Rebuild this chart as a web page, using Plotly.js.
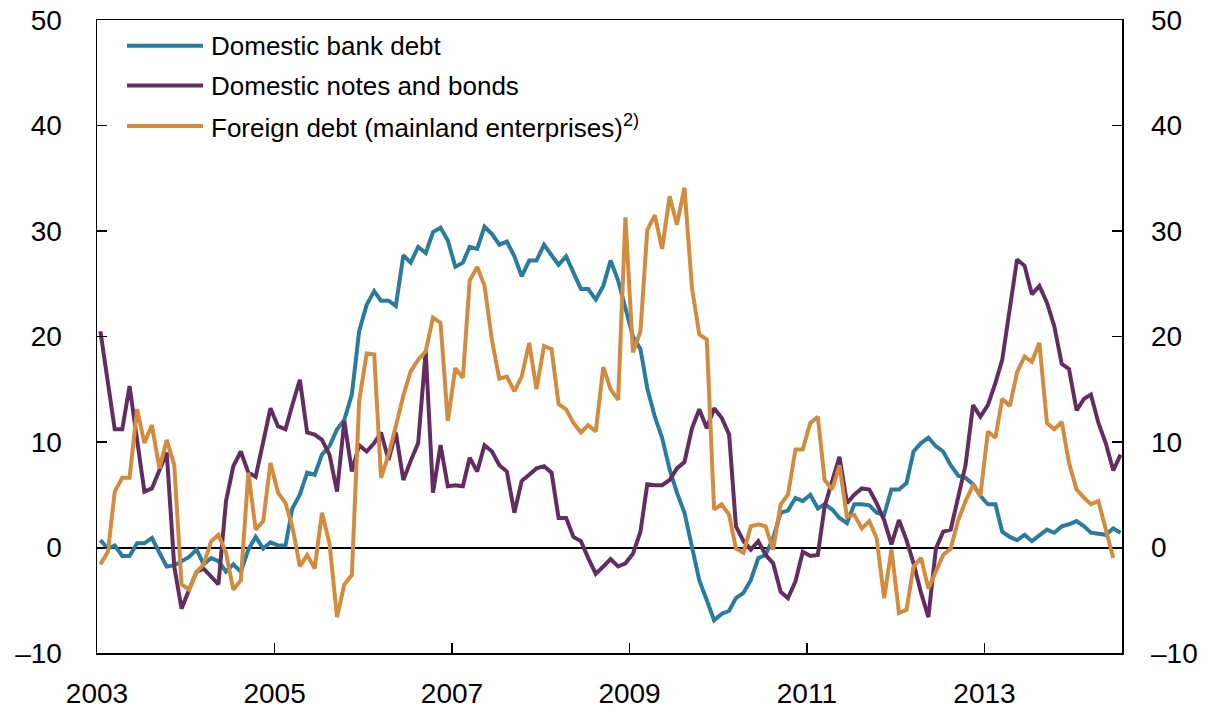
<!DOCTYPE html>
<html>
<head>
<meta charset="utf-8">
<script src="https://cdn.plot.ly/plotly-3.0.1.min.js"></script>
<style>
  html, body { margin: 0; padding: 0; background: #fff; }
  #chart { width: 1212px; height: 714px; }
</style>
</head>
<body>
<div id="chart"></div>
<script>
// Monthly observations starting January 2003
const startYear = 2003;
const startMonth = 1;

const seriesNames = [
  "Domestic bank debt",
  "Domestic notes and bonds",
  "Foreign debt (mainland enterprises)<sup>2)</sup>"
];

const bankDebt = [
  0.7, -0.1, 0.2, -0.8, -0.8, 0.4, 0.4, 0.9, -0.5, -1.8, -1.7, -1.3,
  -0.9, -0.2, -1.6, -1.0, -1.3, -2.3, -1.6, -2.3, -0.2, 1.0, -0.1, 0.5,
  0.2, 0.2, 3.7, 5.0, 7.1, 6.9, 8.8, 9.6, 11.2, 12.1, 14.5, 20.5,
  23.0, 24.3, 23.4, 23.4, 22.9, 27.7, 27.0, 28.5, 27.9, 29.9, 30.3, 29.1,
  26.6, 27.0, 28.5, 28.3, 30.4, 29.7, 28.7, 29.0, 27.6, 25.7, 27.2, 27.2,
  28.7, 27.7, 26.8, 27.6, 26.0, 24.5, 24.5, 23.5, 24.8, 27.2, 25.3, 22.6,
  20.0, 18.8, 15.1, 12.4, 10.4, 7.4, 5.2, 3.3, 0.1, -3.1, -5.0, -6.9,
  -6.3, -6.0, -4.8, -4.3, -3.1, -1.0, -0.7, 0.9, 3.3, 3.5, 4.7, 4.4,
  5.0, 3.7, 4.1, 3.6, 2.8, 2.3, 4.1, 4.1, 4.0, 3.3, 3.1, 5.5,
  5.5, 6.1, 9.1, 9.9, 10.4, 9.6, 9.1, 7.8, 6.8, 6.6, 6.0, 4.9,
  4.1, 4.1, 1.5, 1.0, 0.7, 1.2, 0.6, 1.2, 1.7, 1.4, 2.0, 2.2,
  2.5, 2.0, 1.4, 1.3, 1.2, 1.8, 1.4
];

const notesBonds = [
  20.5, 15.9, 11.2, 11.2, 15.3, 10.2, 5.3, 5.6, 7.4, 9.0, -1.8, -5.8,
  -4.0, -2.3, -2.0, -2.8, -3.5, 4.4, 7.7, 9.1, 7.1, 6.7, 9.9, 13.2,
  11.5, 11.2, 13.5, 15.9, 10.9, 10.7, 10.2, 8.8, 5.3, 12.0, 7.2, 9.7,
  9.1, 9.9, 10.9, 8.3, 10.9, 6.4, 8.2, 9.9, 18.6, 5.2, 9.7, 5.8,
  5.9, 5.8, 8.5, 7.2, 9.7, 9.1, 7.8, 7.2, 3.3, 6.3, 6.9, 7.5,
  7.7, 7.1, 2.8, 2.8, 1.0, 0.6, -1.0, -2.5, -1.8, -1.1, -1.8, -1.5,
  -0.6, 1.5, 6.0, 5.9, 5.9, 6.4, 7.5, 8.1, 11.3, 13.1, 11.3, 13.2,
  12.3, 10.7, 2.0, 0.6, -0.2, 0.6, -0.7, -1.5, -4.2, -4.8, -3.2, -0.4,
  -0.8, -0.7, 3.9, 6.4, 8.6, 4.2, 5.0, 5.6, 5.5, 4.2, 2.6, 0.3,
  2.6, 0.7, -1.5, -4.3, -6.6, -0.1, 1.5, 1.7, 4.8, 7.8, 13.5, 12.4,
  13.5, 15.6, 17.8, 22.9, 27.3, 26.7, 24.0, 24.8, 23.2, 21.0, 17.4, 16.9,
  13.0, 14.1, 14.5, 11.8, 9.9, 7.3, 8.8
];

const foreignDebt = [
  -1.6, -0.4, 5.3, 6.6, 6.6, 13.1, 9.9, 11.6, 7.5, 10.2, 7.8, -3.5,
  -4.0, -2.3, -1.6, 0.6, 1.2, -0.5, -4.0, -3.1, 7.1, 1.7, 2.5, 8.0,
  5.2, 4.2, 2.0, -1.8, -0.7, -2.0, 3.3, 0.4, -6.6, -3.5, -2.6, 13.9,
  18.4, 18.3, 6.6, 8.8, 11.5, 14.4, 16.7, 17.8, 18.6, 21.8, 21.3, 12.0,
  17.0, 16.1, 25.3, 26.6, 24.8, 19.6, 16.0, 16.2, 14.8, 16.2, 19.4, 15.0,
  19.1, 18.8, 13.6, 13.1, 11.8, 10.9, 11.6, 11.0, 17.1, 15.0, 14.0, 31.3,
  18.5, 20.5, 30.1, 31.5, 28.3, 33.3, 30.6, 34.1, 24.6, 20.2, 19.7, 3.6,
  4.1, 3.1, -0.1, -0.5, 2.0, 2.2, 2.0, -0.2, 4.1, 5.0, 9.3, 9.3,
  11.8, 12.4, 6.4, 5.5, 7.8, 2.9, 3.1, 1.8, 2.5, 0.9, -4.8, -0.2,
  -6.2, -5.9, -1.8, -1.0, -3.9, -2.3, -0.7, -0.1, 2.6, 4.4, 5.9, 4.9,
  11.0, 10.4, 14.1, 13.4, 16.6, 18.1, 17.6, 19.4, 11.8, 11.2, 11.9, 8.0,
  5.5, 4.7, 4.1, 4.4, 1.7, -1.0
];

const yTickVals = [-10, 0, 10, 20, 30, 40, 50];
const yTickText = ["\u201310", "0", "10", "20", "30", "40", "50"];
const xTickVals = ["2003-01-01", "2005-01-01", "2007-01-01", "2009-01-01", "2011-01-01", "2013-01-01"];
const xTickText = ["2003", "2005", "2007", "2009", "2011", "2013"];

const colors = ["#2a7b9d", "#622e62", "#d38c3f"];

function monthDates(n) {
  const out = [];
  for (let i = 0; i < n; i++) {
    const m = startMonth - 1 + i;
    const y = startYear + Math.floor(m / 12);
    const mm = (m % 12) + 1;
    out.push(y + "-" + String(mm).padStart(2, "0") + "-15");
  }
  return out;
}

const seriesData = [bankDebt, notesBonds, foreignDebt];
const traces = seriesData.map((vals, k) => ({
  x: monthDates(vals.length),
  y: vals,
  type: "scatter",
  mode: "lines",
  name: seriesNames[k],
  line: { color: colors[k], width: 4 },
  showlegend: false,
  hoverinfo: "skip"
}));
// transparent carrier so the right-hand axis is drawn
traces.push({
  x: monthDates(bankDebt.length), y: bankDebt, yaxis: "y2", type: "scatter", mode: "lines",
  line: { color: "rgba(0,0,0,0)", width: 0 }, showlegend: false, hoverinfo: "skip"
});

const fontFam = "Liberation Sans, Arial, Helvetica, sans-serif";
const tickFont = { family: fontFam, size: 28, color: "#000" };

// legend with long line samples, as in the reference
const legendYs = [0.9594, 0.8965, 0.8325];
const shapes = [];
const annotations = [];
seriesNames.forEach((nm, k) => {
  shapes.push({
    type: "line", xref: "paper", yref: "paper",
    x0: 0.0293, x1: 0.1034, y0: legendYs[k], y1: legendYs[k],
    line: { color: colors[k], width: 4 }
  });
  annotations.push({
    xref: "paper", yref: "paper", x: 0.1095, y: legendYs[k],
    xanchor: "left", yanchor: "middle", showarrow: false,
    text: nm, font: { family: fontFam, size: 26, color: "#000" }
  });
});

const layout = {
  width: 1212, height: 714,
  margin: { l: 97, r: 90, t: 20, b: 61 },
  paper_bgcolor: "#fff", plot_bgcolor: "#fff",
  showlegend: false,
  xaxis: {
    type: "date",
    range: ["2003-01-01", "2014-07-21"],
    tickvals: xTickVals, ticktext: xTickText,
    ticks: "inside", ticklen: 10, tickwidth: 1.2, tickcolor: "#000",
    showline: true, linecolor: "#000", linewidth: 1.5, mirror: true,
    showgrid: false, zeroline: false,
    tickfont: tickFont, ticklabelstandoff: 15
  },
  yaxis: {
    range: [-10, 50],
    tickvals: yTickVals, ticktext: yTickText,
    ticks: "inside", ticklen: 10, tickwidth: 1.2, tickcolor: "#000",
    showline: true, linecolor: "#000", linewidth: 1.5, mirror: true,
    showgrid: false,
    zeroline: true, zerolinecolor: "#000", zerolinewidth: 2,
    tickfont: tickFont, ticklabelstandoff: 28
  },
  yaxis2: {
    overlaying: "y", side: "right",
    range: [-10, 50],
    tickvals: yTickVals, ticktext: yTickText,
    ticks: "inside", ticklen: 10, tickwidth: 1.2, tickcolor: "#000",
    showline: false, showgrid: false, zeroline: false,
    tickfont: tickFont, ticklabelstandoff: 28
  },
  shapes: shapes,
  annotations: annotations
};

Plotly.newPlot("chart", traces, layout, { displayModeBar: false, staticPlot: true });
</script>
</body>
</html>
